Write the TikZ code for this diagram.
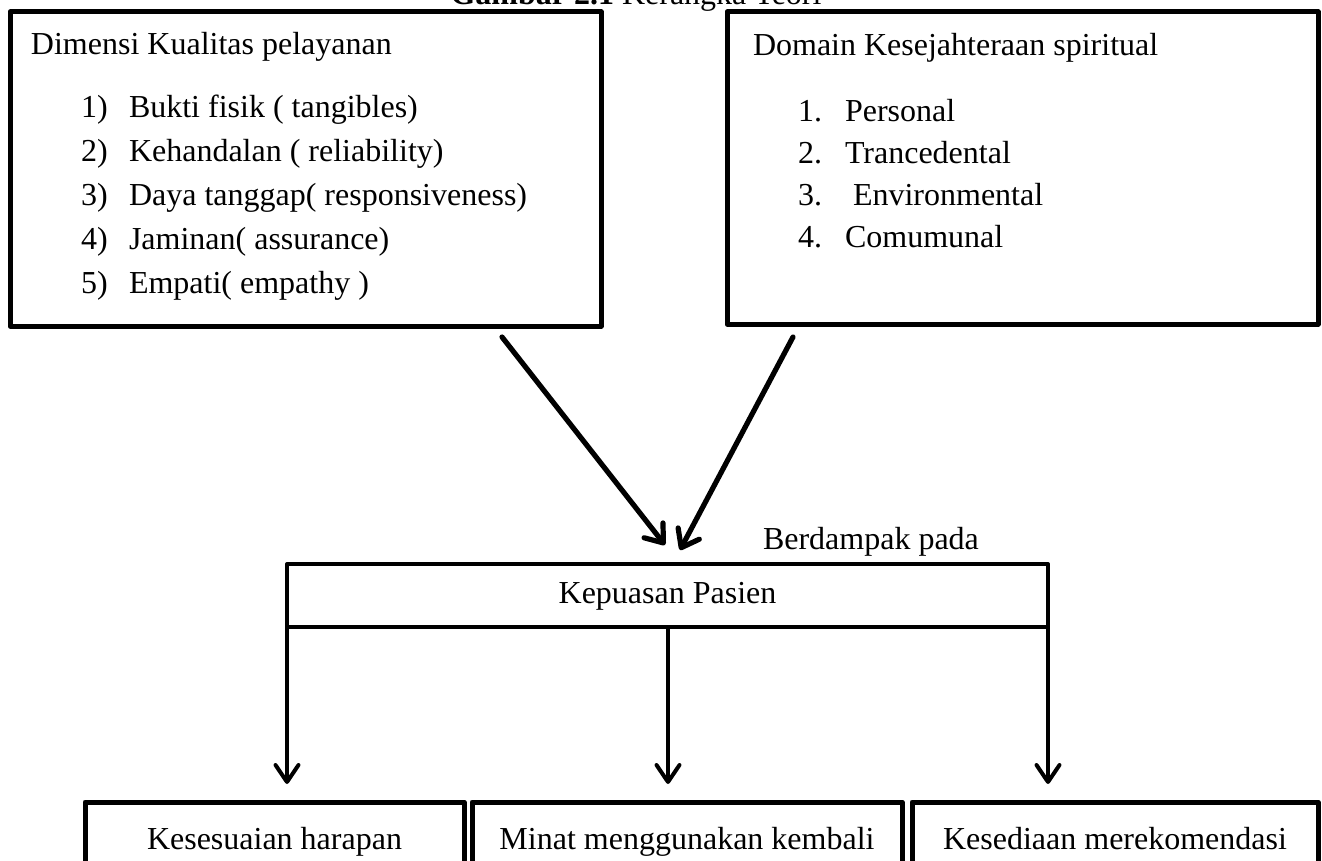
\documentclass[tikz,border=0pt]{standalone}
\usepackage{fontspec}
\setmainfont{Liberation Serif}
\usetikzlibrary{arrows.meta}
\begin{document}
\begin{tikzpicture}[x=0.5pt,y=-0.5pt,
  every node/.style={font=\fontsize{16}{19}\selectfont, inner sep=0pt, outer sep=0pt, text height=0.69em, text depth=0.22em},
  bigbox/.style={draw, line width=2.5pt, line join=round, rectangle},
  midbox/.style={draw, line width=2pt, line join=round, rectangle},
  lowtext/.style={text height=0.845em, text depth=0.065em},
  txt/.style={anchor=west},
  diagarrow/.style={line width=2.6pt, line cap=round, -{Straight Barb[length=8pt,width=12pt,round]}},
  vertarrow/.style={line width=2pt, -{Straight Barb[length=8.5pt,width=11.5pt,round]}}]
\useasboundingbox (0,0) rectangle (1322,861);
\clip (0,0) rectangle (1322,861);

% title
\node[anchor=base] (title) at (636,5) {\textbf{Gambar 2.1} Kerangka Teori};

% top boxes
\node[bigbox, minimum width=295.5pt, minimum height=157pt] (dim) at (305.5,169) {};
\node[bigbox, minimum width=295.5pt, minimum height=156pt] (dom) at (1022.5,168) {};

\node[txt] (dimh) at (31,50) {Dimensi Kualitas pelayanan};
\node[txt] (dn1) at (81,113) {1)};
\node[txt] (dt1) at (129,113) {Bukti fisik ( tangibles)};
\node[txt] (dn2) at (81,157) {2)};
\node[txt] (dt2) at (129,157) {Kehandalan ( reliability)};
\node[txt] (dn3) at (81,201) {3)};
\node[txt] (dt3) at (129,201) {Daya tanggap( responsiveness)};
\node[txt] (dn4) at (81,245) {4)};
\node[txt] (dt4) at (129,245) {Jaminan( assurance)};
\node[txt] (dn5) at (81,289) {5)};
\node[txt] (dt5) at (129,289) {Empati( empathy )};

\node[txt] (domh) at (753,51) {Domain Kesejahteraan spiritual};
\node[txt] (mn1) at (798,117) {1.};
\node[txt] (mt1) at (845,117) {Personal};
\node[txt] (mn2) at (798,159) {2.};
\node[txt] (mt2) at (845,159) {Trancedental};
\node[txt] (mn3) at (798,201) {3.};
\node[txt] (mt3) at (853,201) {Environmental};
\node[txt] (mn4) at (798,243) {4.};
\node[txt] (mt4) at (845,243) {Comumunal};

% middle box
\node[midbox, lowtext, minimum width=380.5pt, minimum height=31.5pt] (kp) at (667.5,595.5) {Kepuasan Pasien};
\node[anchor=base west] (berd) at (763,549) {Berdampak pada};

% diagonal arrows
\coordinate (s1) at (502,337);
\coordinate (t1) at (665,545);
\coordinate (s2) at (793,337);
\coordinate (t2) at (680,550);
\draw[diagarrow] (s1) -- (t1);
\draw[diagarrow] (s2) -- (t2);

% bottom boxes
\node[bigbox, minimum width=189.5pt, minimum height=43pt] (b1) at (274.5,845) {Kesesuaian harapan};
\node[bigbox, minimum width=215pt, minimum height=43pt] (b2) at (687,845) {Minat menggunakan kembali};
\node[bigbox, minimum width=203pt, minimum height=43pt] (b3) at (1115,845) {Kesediaan merekomendasi};

% vertical arrows
\coordinate (v1) at (287,784);
\coordinate (v2) at (668,784);
\coordinate (v3) at (1048,784);
\draw[vertarrow] (kp.south west) -- (v1);
\draw[vertarrow] (kp.south -| v2) -- (v2);
\draw[vertarrow] (kp.south east) -- (v3);
\end{tikzpicture}
\end{document}
